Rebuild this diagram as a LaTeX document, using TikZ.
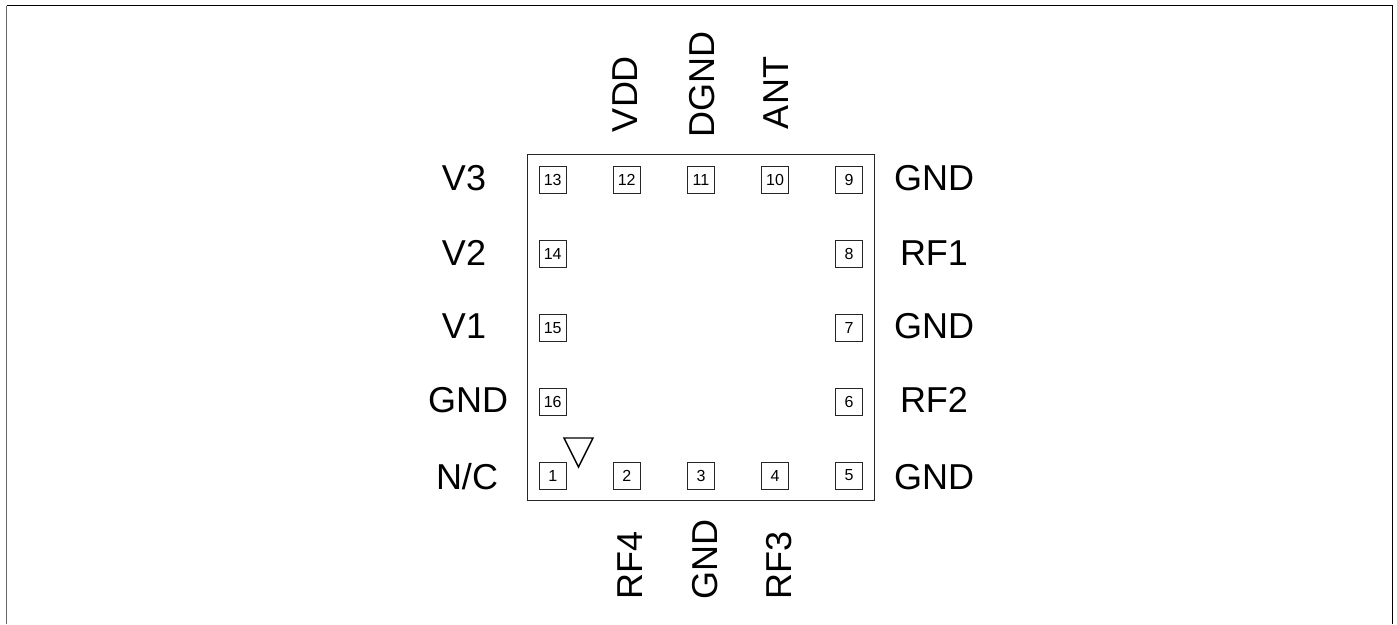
\documentclass[tikz,border=0pt]{standalone}
\usepackage{fontspec}
\setmainfont{Liberation Sans}
\tikzset{
  pinbox/.style={draw=black!85,line width=1pt,minimum size=27pt,inner sep=0pt,font=\fontsize{16}{18}\selectfont},
  sig/.style={inner sep=0pt,font=\fontsize{36}{38}\selectfont},
  sigv/.style={sig,rotate=90}
}
\begin{document}
\begin{tikzpicture}[x=1pt,y=-1pt]
\useasboundingbox (0,0) rectangle (1397,624);
\draw[line width=1pt,draw=black!60] (6.5,5.5) -- (6.5,624);
\draw[line width=1pt] (6.5,5.5) -- (1392,5.5) -- (1392,624);
\node[draw=black!85,line width=1pt,minimum width=347pt,minimum height=346pt,inner sep=0pt] (chip) at (700.5,327) {};
\foreach \n/\x/\y in {1/552.7/475.5,2/626.7/475.5,3/701/475.5,4/775/475.5,5/849/475.5,6/849/401.5,7/849/328,8/849/254,9/849/180,10/775/180,11/701/180,12/626.7/180,13/552.7/180,14/552.7/254,15/552.7/328,16/552.7/401.5}
  \node[pinbox] (p\n) at (\x,\y) {\n};
\coordinate (ta) at (564,438);
\coordinate (tb) at (593,438);
\coordinate (tc) at (578.5,467);
\draw[line width=1.4pt,line join=miter] (ta) -- (tb) -- (tc) -- cycle;
\node[sig] (lv3) at (464,178) {V3};
\node[sig] (lv2) at (464,253) {V2};
\node[sig] (lv1) at (464,326) {V1};
\node[sig] (lg16) at (468,400) {GND};
\node[sig] (lnc) at (467,477) {N/C};
\node[sig] (rg9) at (934,178) {GND};
\node[sig] (rf1) at (934,253) {RF1};
\node[sig] (rg7) at (934,326) {GND};
\node[sig] (rf2) at (934,400) {RF2};
\node[sig] (rg5) at (934,477) {GND};
\node[sigv] (tvdd) at (625,94) {VDD};
\node[sigv] (tdg) at (702,84) {DGND};
\node[sigv] (tant) at (776,93) {ANT};
\node[sigv] (brf4) at (630,565) {RF4};
\node[sigv] (bgnd) at (705,559) {GND};
\node[sigv] (brf3) at (779,565) {RF3};
\end{tikzpicture}
\end{document}
